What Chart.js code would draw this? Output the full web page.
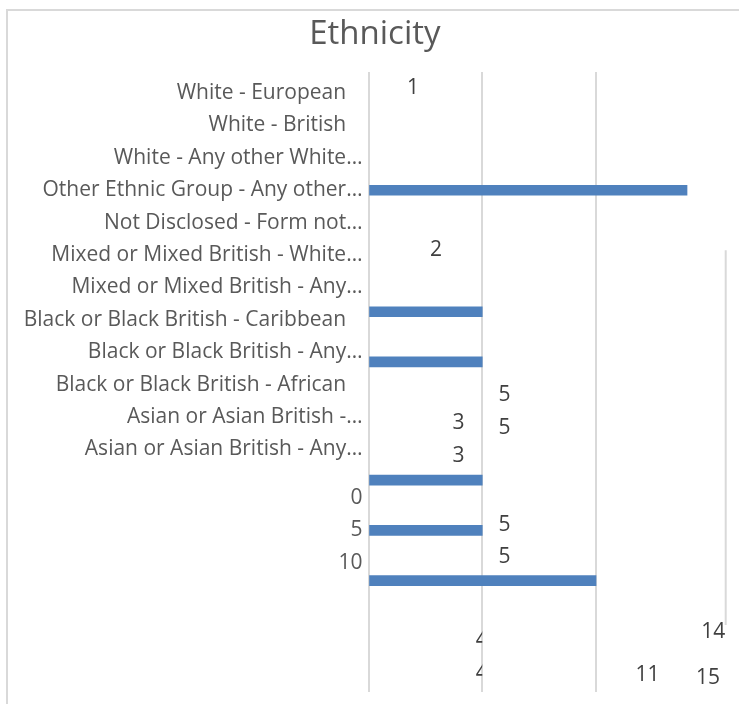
<!DOCTYPE html>
<html>
<head>
<meta charset="utf-8">
<script src="https://cdn.jsdelivr.net/npm/chart.js@4/dist/chart.umd.min.js"></script>
<style>
html,body{margin:0;padding:0;background:#fff;}
body{width:739px;height:704px;position:relative;overflow:hidden;}
#frame{position:absolute;left:6px;top:9px;width:740px;height:700px;border-left:2px solid #d9d9d9;border-top:2px solid #d9d9d9;}
#wrap{position:absolute;left:0;top:0;width:739px;height:704px;}
</style>
</head>
<body>
<div id="frame"></div>
<div id="wrap"><canvas id="ethnicityChart" width="739" height="704"></canvas></div>
<script>

// category labels down the left side (axis units: one row per label)
const categories = [
"White - European   ",
"White - British   ",
"White - Any other White…",
"Other Ethnic Group - Any other…",
"Not Disclosed - Form not…",
"Mixed or Mixed British - White…",
"Mixed or Mixed British - Any…",
"Black or Black British - Caribbean   ",
"Black or Black British - Any…",
"Black or Black British - African   ",
"Asian or Asian British -…",
"Asian or Asian British - Any…"
];
const categoryRows = [0,1,2,3,4,5,6,7,8,9,10,11];

// the value axis tick labels, which ended up in the left column
const valueTicks = ["0","5","10"];
const valueTickRows = [12.5,13.5,14.5];

// bars
const barValues = [14,5,5,5,5,10];
const barRows = [3,6.75,8.3,11.95,13.5,15.05];

// data labels as they sit in the picture
const labelTexts = ["1","2","5","3","5","3","5","5","14","4","4","11","15"];
const labelValues = [1.96,2.97,5.98,3.96,5.98,3.96,5.98,5.98,15.15,4.98,4.98,12.26,14.92];
const labelRows = [-0.15,4.85,9.32,10.2,10.34,11.19,13.33,14.32,16.64,16.9,17.9,17.96,18.07];
const labelClipAt = [null,null,null,null,null,null,null,null,null,5,5,null,null];

const gridTicks = [0,5,10];
const xMax = 15.7;
const yMin = -0.65;
const yMax = 18.49;

// stray gridline piece on the right
const strayLineValue = 15.7;
const strayLineRows = [4.85,16.42];

const tickRows = categoryRows.concat(valueTickRows);
const tickTexts = categories.concat(valueTicks);

const grey = "#595959";
const font = "'Open Sans'";

const extras = {
id:"extras",
beforeDatasetsDraw(chart){
const ctx = chart.ctx;
const xs = chart.scales.x, ys = chart.scales.y;
ctx.save();
ctx.strokeStyle = "#d9d9d9";
ctx.lineWidth = 2;
ctx.beginPath();
ctx.moveTo(xs.getPixelForValue(strayLineValue), ys.getPixelForValue(strayLineRows[0]));
ctx.lineTo(xs.getPixelForValue(strayLineValue), ys.getPixelForValue(strayLineRows[1]));
ctx.stroke();
ctx.restore();
},
afterDatasetsDraw(chart){
const ctx = chart.ctx;
const xs = chart.scales.x, ys = chart.scales.y;
labelTexts.forEach((t,i)=>{
const px = xs.getPixelForValue(labelValues[i]);
const py = ys.getPixelForValue(labelRows[i]);
ctx.save();
if(labelClipAt[i] !== null){
ctx.beginPath();
ctx.rect(0,0,xs.getPixelForValue(labelClipAt[i]),chart.height);
ctx.clip();
}
ctx.fillStyle = "#404040";
ctx.font = "21px " + font;
ctx.textAlign = "center";
ctx.textBaseline = "middle";
ctx.fillText(t,px,py);
ctx.restore();
});
}
};

new Chart(document.getElementById("ethnicityChart"),{
type:"bar",
data:{
datasets:[{
data:barValues.map((v,i)=>({x:v,y:barRows[i]})),
backgroundColor:"#4f81bd",
borderWidth:0,
barThickness:10
}]
},
options:{
indexAxis:"y",
responsive:false,
animation:false,
devicePixelRatio:1,
layout:{padding:{left:24,right:13.3,top:0,bottom:12}},
plugins:{
legend:{display:false},
tooltip:{enabled:false},
title:{
display:true,
text:"Ethnicity",
color:grey,
font:{family:font,size:33,weight:"normal"},
padding:{top:15,bottom:17.4}
}
},
scales:{
x:{
type:"linear",
min:0,
max:xMax,
afterBuildTicks:axis=>{axis.ticks = gridTicks.map(v=>({value:v}));},
afterFit:axis=>{axis.height = 0; axis.paddingLeft = 0; axis.paddingRight = 0;},
ticks:{display:false},
grid:{color:"#d9d9d9",lineWidth:2,drawTicks:false},
border:{display:false}
},
y:{
type:"linear",
reverse:true,
offset:false,
min:yMin,
max:yMax,
afterBuildTicks:axis=>{axis.ticks = tickRows.map(v=>({value:v}));},
afterFit:axis=>{axis.width = 344.5; axis.paddingTop = 0; axis.paddingBottom = 0;},
ticks:{
autoSkip:false,
padding:6,
color:grey,
font:{family:font,size:21},
callback:(v,i)=>tickTexts[i]
},
grid:{display:false,drawTicks:false},
border:{display:false}
}
}
},
plugins:[extras]
});
</script>
</body>
</html>
